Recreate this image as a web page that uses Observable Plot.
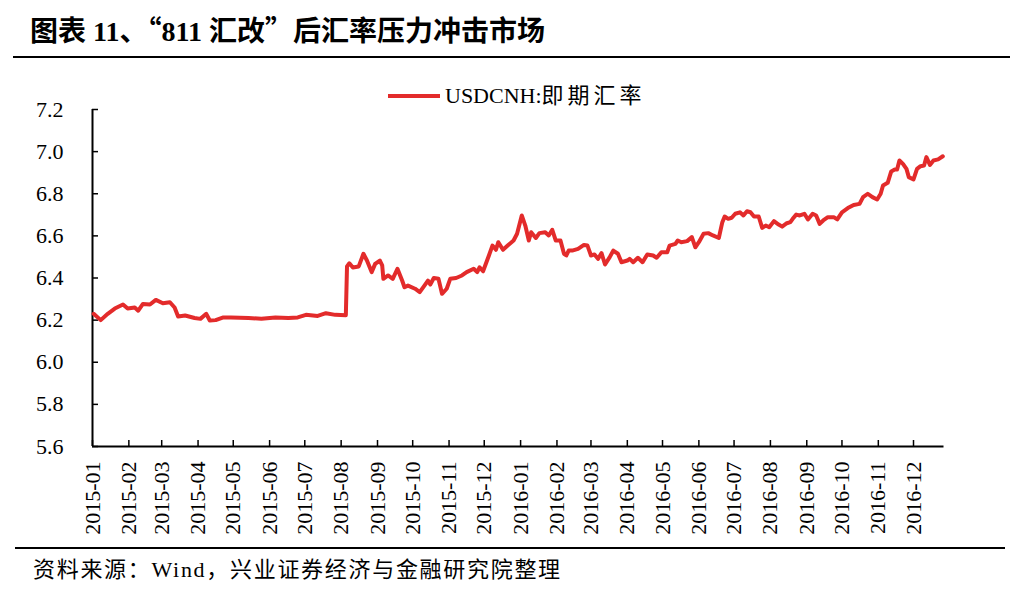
<!DOCTYPE html>
<html><head><meta charset="utf-8">
<script src="https://cdn.jsdelivr.net/npm/d3@7"></script>
<script src="https://cdn.jsdelivr.net/npm/@observablehq/plot@0.6"></script>
<style>
body{margin:0;background:#fff;}
#wrap{position:relative;width:1030px;height:598px;overflow:hidden;font-family:"Liberation Serif","Noto Sans CJK SC",serif;color:#000;background:#fff;}
#title{position:absolute;left:30px;top:12px;font-size:28px;font-weight:bold;white-space:nowrap;line-height:34px;}
#title .q{font-family:"Noto Sans CJK SC";}
.rule{position:absolute;height:2px;background:#000;}
#chart{position:absolute;left:0;top:60px;}
#legend{position:absolute;left:388px;top:82px;display:flex;align-items:center;font-size:22px;white-space:nowrap;line-height:28px;}
#legend .sw{width:52px;height:4px;background:#e32b2b;margin-right:5px;}
#legend .cjk{letter-spacing:4px;}
#caption{position:absolute;left:33px;top:555px;font-size:22px;letter-spacing:1.7px;white-space:nowrap;line-height:30px;}
</style></head><body>
<div id="wrap">
  <div id="title">图表 11、<span class="q">“</span>811 汇改<span class="q">”</span>后汇率压力冲击市场</div>
  <div class="rule" style="left:13px;top:56px;width:997px;"></div>
  <div id="chart"></div>
  <div id="legend"><div class="sw"></div><span>USDCNH:</span><span class="cjk">即期汇率</span></div>
  <div class="rule" style="left:15px;top:547px;width:990px;"></div>
  <div id="caption">资料来源：Wind，兴业证券经济与金融研究院整理</div>
</div>
<script>
const seriesName = "USDCNH:即期汇率";
const dates = [
"2015-01-02","2015-01-08","2015-01-14","2015-01-20","2015-01-27","2015-01-31","2015-02-06","2015-02-09","2015-02-13","2015-02-19",
"2015-02-24","2015-03-02","2015-03-08","2015-03-12","2015-03-15","2015-03-21","2015-03-29","2015-04-03","2015-04-08","2015-04-11",
"2015-04-16","2015-04-22","2015-04-29","2015-05-14","2015-05-25","2015-06-06","2015-06-17","2015-06-25","2015-07-02","2015-07-12",
"2015-07-19","2015-07-27","2015-08-05","2015-08-06","2015-08-08","2015-08-11","2015-08-16","2015-08-20","2015-08-23","2015-08-27",
"2015-08-30","2015-09-03","2015-09-05","2015-09-06","2015-09-10","2015-09-14","2015-09-18","2015-09-22","2015-09-24","2015-09-27",
"2015-10-03","2015-10-07","2015-10-11","2015-10-14","2015-10-16","2015-10-19","2015-10-23","2015-10-26","2015-10-30","2015-11-02",
"2015-11-07","2015-11-12","2015-11-16","2015-11-22","2015-11-25","2015-11-27","2015-11-30","2015-12-05","2015-12-08","2015-12-11",
"2015-12-13","2015-12-17","2015-12-21","2015-12-26","2015-12-29","2016-01-02","2016-01-05","2016-01-08","2016-01-10","2016-01-14",
"2016-01-17","2016-01-22","2016-01-25","2016-01-28","2016-01-31","2016-02-04","2016-02-07","2016-02-09","2016-02-11","2016-02-14",
"2016-02-19","2016-02-24","2016-02-27","2016-03-01","2016-03-04","2016-03-07","2016-03-10","2016-03-13","2016-03-17","2016-03-20",
"2016-03-24","2016-03-27","2016-04-01","2016-04-03","2016-04-06","2016-04-10","2016-04-14","2016-04-18","2016-04-23","2016-04-26",
"2016-04-30","2016-05-05","2016-05-07","2016-05-12","2016-05-14","2016-05-17","2016-05-22","2016-05-26","2016-05-29","2016-06-01",
"2016-06-05","2016-06-09","2016-06-13","2016-06-18","2016-06-21","2016-06-23","2016-06-26","2016-06-29","2016-07-02","2016-07-06",
"2016-07-09","2016-07-12","2016-07-15","2016-07-18","2016-07-22","2016-07-25","2016-07-28","2016-07-31","2016-08-04","2016-08-08",
"2016-08-11","2016-08-15","2016-08-18","2016-08-20","2016-08-23","2016-08-26","2016-08-30","2016-09-02","2016-09-06","2016-09-09",
"2016-09-12","2016-09-15","2016-09-19","2016-09-24","2016-09-27","2016-10-01","2016-10-06","2016-10-11","2016-10-16","2016-10-19",
"2016-10-23","2016-10-27","2016-10-31","2016-11-03","2016-11-05","2016-11-09","2016-11-12","2016-11-15","2016-11-17","2016-11-19",
"2016-11-22","2016-11-25","2016-11-27","2016-12-01","2016-12-04","2016-12-07","2016-12-10","2016-12-12","2016-12-15","2016-12-18",
"2016-12-22","2016-12-26"
];
const rates = [
6.230,6.200,6.230,6.255,6.274,6.255,6.260,6.245,6.277,6.274,
6.296,6.280,6.285,6.260,6.217,6.222,6.210,6.206,6.230,6.198,
6.200,6.212,6.213,6.210,6.207,6.213,6.210,6.213,6.225,6.220,
6.233,6.225,6.223,6.455,6.470,6.450,6.455,6.515,6.483,6.428,
6.467,6.483,6.460,6.396,6.412,6.396,6.444,6.388,6.356,6.364,
6.349,6.333,6.364,6.388,6.369,6.400,6.396,6.325,6.349,6.396,
6.400,6.412,6.428,6.444,6.428,6.451,6.432,6.507,6.554,6.534,
6.570,6.534,6.554,6.578,6.610,6.697,6.649,6.578,6.617,6.590,
6.613,6.617,6.602,6.629,6.578,6.578,6.515,6.507,6.530,6.530,
6.538,6.557,6.554,6.507,6.512,6.491,6.518,6.464,6.499,6.530,
6.515,6.475,6.483,6.491,6.475,6.496,6.475,6.512,6.507,6.496,
6.522,6.522,6.554,6.562,6.578,6.570,6.575,6.594,6.546,6.570,
6.610,6.613,6.602,6.590,6.665,6.692,6.681,6.686,6.705,6.712,
6.697,6.717,6.712,6.692,6.692,6.638,6.649,6.641,6.670,6.654,
6.644,6.660,6.665,6.681,6.701,6.697,6.705,6.678,6.705,6.697,
6.657,6.673,6.689,6.689,6.678,6.712,6.732,6.747,6.752,6.784,
6.800,6.784,6.773,6.800,6.839,6.852,6.906,6.915,6.915,6.958,
6.942,6.918,6.879,6.868,6.918,6.931,6.934,6.974,6.937,6.958,
6.963,6.978
];
const monthLabels = ["2015-01","2015-02","2015-03","2015-04","2015-05","2015-06","2015-07","2015-08","2015-09","2015-10","2015-11","2015-12",
"2016-01","2016-02","2016-03","2016-04","2016-05","2016-06","2016-07","2016-08","2016-09","2016-10","2016-11","2016-12"];
const yTicks = [5.6,5.8,6.0,6.2,6.4,6.6,6.8,7.0,7.2];
const xStart = "2015-01-01", xEnd = "2016-12-27";

const data = dates.map((d, i) => ({date: new Date(d), rate: rates[i]}));
const tickDates = monthLabels.map(m => new Date(m + "-01"));
const labelOf = new Map(tickDates.map((d, i) => [+d, monthLabels[i]]));
const x0 = new Date(xStart), x1 = new Date(xEnd);

const W = 1030, H = 486;
const mL = 92, mR = W - 943.5, mT = 49, mB = H - 386;
const plotW = W - mL - mR, plotH = H - mT - mB;
const red = "#e32b2b";

const chart = Plot.plot({
  width: W, height: H,
  marginLeft: mL, marginRight: mR, marginTop: mT, marginBottom: mB,
  x: {type: "utc", domain: [x0, x1]},
  y: {domain: [yTicks[0], yTicks[yTicks.length - 1]]},
  style: {fontFamily: "Liberation Serif, Noto Sans CJK SC, serif", fontSize: "22px", color: "#000", background: "transparent"},
  marks: [
    Plot.axisY({ticks: yTicks, tickSize: 0, tickPadding: 29, tickFormat: d => d.toFixed(1), label: null, fontSize: 22}),
    Plot.axisX({ticks: tickDates, tickSize: 0, tickPadding: 15, tickRotate: -90, tickFormat: d => labelOf.get(+d), label: null, fontSize: 22}),
    Plot.tickY(yTicks, {y: d => d, stroke: "#000", strokeWidth: 1.5, insetRight: plotW - 6}),
    Plot.tickX(tickDates, {x: d => d, stroke: "#000", strokeWidth: 1.5, insetTop: plotH - 6}),
    Plot.ruleX([x0], {stroke: "#000", strokeWidth: 2}),
    Plot.ruleY([yTicks[0]], {stroke: "#000", strokeWidth: 2}),
    Plot.line(data, {x: "date", y: "rate", stroke: red, strokeWidth: 4, strokeLinejoin: "round"})
  ]
});
document.getElementById("chart").appendChild(chart);
</script>
</body></html>
